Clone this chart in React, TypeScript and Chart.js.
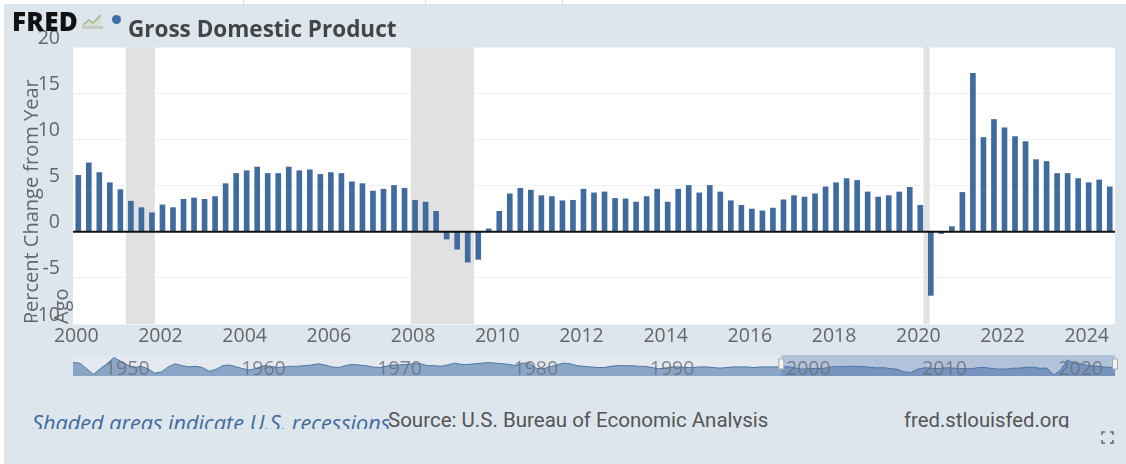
import React, { useEffect, useRef } from "react";
import { Chart, registerables } from "chart.js";

Chart.register(...registerables);

const FONT = '"Open Sans", sans-serif';
const TICK_COLOR = "#666666";

// Quarterly percent change from year ago, 2000 Q1 to 2024 Q3
const quarterLabels = [
  "2000-Q1","2000-Q2","2000-Q3","2000-Q4","2001-Q1","2001-Q2","2001-Q3","2001-Q4",
  "2002-Q1","2002-Q2","2002-Q3","2002-Q4","2003-Q1","2003-Q2","2003-Q3","2003-Q4",
  "2004-Q1","2004-Q2","2004-Q3","2004-Q4","2005-Q1","2005-Q2","2005-Q3","2005-Q4",
  "2006-Q1","2006-Q2","2006-Q3","2006-Q4","2007-Q1","2007-Q2","2007-Q3","2007-Q4",
  "2008-Q1","2008-Q2","2008-Q3","2008-Q4","2009-Q1","2009-Q2","2009-Q3","2009-Q4",
  "2010-Q1","2010-Q2","2010-Q3","2010-Q4","2011-Q1","2011-Q2","2011-Q3","2011-Q4",
  "2012-Q1","2012-Q2","2012-Q3","2012-Q4","2013-Q1","2013-Q2","2013-Q3","2013-Q4",
  "2014-Q1","2014-Q2","2014-Q3","2014-Q4","2015-Q1","2015-Q2","2015-Q3","2015-Q4",
  "2016-Q1","2016-Q2","2016-Q3","2016-Q4","2017-Q1","2017-Q2","2017-Q3","2017-Q4",
  "2018-Q1","2018-Q2","2018-Q3","2018-Q4","2019-Q1","2019-Q2","2019-Q3","2019-Q4",
  "2020-Q1","2020-Q2","2020-Q3","2020-Q4","2021-Q1","2021-Q2","2021-Q3","2021-Q4",
  "2022-Q1","2022-Q2","2022-Q3","2022-Q4","2023-Q1","2023-Q2","2023-Q3","2023-Q4",
  "2024-Q1","2024-Q2","2024-Q3",
];

const gdpChange = [
  6.1, 7.45, 6.4, 5.3, 4.55, 3.3, 2.6, 2.05,
  2.9, 2.6, 3.5, 3.65, 3.5, 3.8, 5.2, 6.3,
  6.6, 7.0, 6.3, 6.3, 7.0, 6.6, 6.7, 6.2,
  6.4, 6.3, 5.4, 5.2, 4.4, 4.6, 5.0, 4.7,
  3.4, 3.2, 2.2, -0.8, -1.9, -3.3, -3.0, 0.3,
  2.2, 4.1, 4.7, 4.5, 3.9, 3.8, 3.35, 3.4,
  4.6, 4.2, 4.3, 3.6, 3.55, 3.2, 3.8, 4.6,
  3.2, 4.6, 5.0, 4.2, 5.0, 4.3, 3.35, 2.85,
  2.45, 2.25, 2.55, 3.45, 3.9, 3.75, 4.1, 4.85,
  5.3, 5.75, 5.55, 4.3, 3.75, 3.9, 4.3, 4.8,
  2.85, -6.9, -0.2, 0.55, 4.25, 17.15, 10.2, 12.15,
  11.25, 10.3, 9.75, 7.8, 7.6, 6.3, 6.3, 5.75,
  5.3, 5.6, 4.85,
];

// Recession bands, as positions along the quarter axis (0 = 2000 Q1)
const recessionStarts = [4.53, 31.6, 80.3];
const recessionEnds = [7.28, 37.6, 80.9];

const yTitleLines = ["Percent Change from Year", "Ago"];

// Navigator overview: half-yearly values from 1948
const navFirstYear = 1948;
const navTickYears = [1950, 1960, 1970, 1980, 1990, 2000, 2010, 2020];
const navValues = [
  13, 12, 3, -6, 3, 11, 21, 15, 9, 5, 7, 3, -4, -2, 6, 11, 8, 6, 7, 5,
  -1, 2, 8, 9, 6, 3, 1, 4, 8, 7, 5, 6, 7, 7, 8, 9, 11, 9, 6, 5,
  8, 10, 9, 8, 6, 5, 7, 9, 9, 10, 11, 11, 8, 8, 7, 9, 12, 10, 10, 11,
  12, 13, 12, 11, 10, 8, 12, 12, 4, 3, 6, 9, 12, 11, 8, 7, 6, 5, 5, 7,
  8, 8, 8, 7, 7, 5, 3, 4, 6, 6, 5, 5, 6, 6, 5, 4, 5, 6, 6, 6,
  5, 6, 6, 6, 6.1, 6.4, 4.5, 2.6, 2.9, 3.5, 3.5, 5.2, 6.6, 6.3, 7, 6.7,
  6.4, 5.4, 4.4, 4.9, 3.4, 2.2, -1.9, -3, 2.2, 4.7, 3.9, 3.4, 4.6, 4.3,
  3.6, 3.2, 3.2, 5, 5, 3.35, 2.4, 2.55, 3.9, 4.1, 5.3, 5.55, 3.75, 4.3,
  -6.9, 0.5, 17, 12, 11, 8, 7.6, 6.3, 5.3, 4.85,
];
const navSelection = [2000, 2024.5];

const recessionBands = {
  id: "recessionBands",
  beforeDatasetsDraw(chart: any) {
    const { ctx, chartArea, scales } = chart;
    ctx.save();
    ctx.fillStyle = "#e1e1e1";
    recessionStarts.forEach((s, i) => {
      const a = scales.x.getPixelForValue(s);
      const b = scales.x.getPixelForValue(recessionEnds[i]);
      ctx.fillRect(a, chartArea.top, b - a, chartArea.bottom - chartArea.top);
    });
    ctx.restore();
  },
};

const zeroLine = {
  id: "zeroLine",
  afterDatasetsDraw(chart: any) {
    const { ctx, chartArea, scales } = chart;
    const y = scales.y.getPixelForValue(0);
    ctx.save();
    ctx.strokeStyle = "#111111";
    ctx.lineWidth = 2;
    ctx.beginPath();
    ctx.moveTo(chartArea.left, y);
    ctx.lineTo(chartArea.right, y);
    ctx.stroke();
    ctx.restore();
  },
};

const plotBackground = {
  id: "plotBackground",
  beforeDraw(chart: any) {
    const { ctx, chartArea } = chart;
    ctx.save();
    ctx.fillStyle = "#ffffff";
    ctx.fillRect(chartArea.left, chartArea.top, chartArea.right - chartArea.left, chartArea.bottom - chartArea.top);
    ctx.restore();
  },
};

const navBackground = {
  id: "navBackground",
  beforeDraw(chart: any) {
    const { ctx, chartArea } = chart;
    ctx.save();
    ctx.fillStyle = "#e4e9f0";
    ctx.fillRect(chartArea.left, chartArea.top, chartArea.right - chartArea.left, chartArea.bottom - chartArea.top);
    ctx.restore();
  },
};

const navSelectionBox = {
  id: "navSelectionBox",
  afterDatasetsDraw(chart: any) {
    const { ctx, chartArea, scales } = chart;
    const a = scales.x.getPixelForValue(navSelection[0]);
    const b = scales.x.getPixelForValue(navSelection[1]);
    ctx.save();
    ctx.fillStyle = "rgba(80,115,175,0.33)";
    ctx.fillRect(a, chartArea.top, b - a, chartArea.bottom - chartArea.top);
    [a, b].forEach((x) => {
      ctx.fillStyle = "#f2f2f2";
      ctx.strokeStyle = "#aaaaaa";
      ctx.lineWidth = 1;
      ctx.fillRect(x - 2.5, chartArea.top + 4, 5, 10);
      ctx.strokeRect(x - 2.5, chartArea.top + 4, 5, 10);
    });
    ctx.restore();
  },
};

export default function App() {
  const mainRef = useRef<HTMLCanvasElement>(null);
  const navRef = useRef<HTMLCanvasElement>(null);

  useEffect(() => {
    const main = new Chart(mainRef.current as any, {
      type: "bar",
      data: {
        labels: quarterLabels,
        datasets: [
          {
            data: gdpChange,
            backgroundColor: "#3f6b9f",
            borderWidth: 0,
            barThickness: 5,
          },
        ],
      },
      plugins: [plotBackground, recessionBands, zeroLine],
      options: {
        animation: false,
        responsive: false,
        devicePixelRatio: 1,
        layout: { padding: { top: 47, right: 11, left: 0, bottom: 0 } },
        plugins: { legend: { display: false }, tooltip: { enabled: false }, title: { display: false } },
        scales: {
          x: {
            type: "category",
            offset: true,
            grid: { display: false },
            border: { display: false },
            afterFit(s: any) {
              s.height = 26;
            },
            ticks: {
              autoSkip: false,
              maxRotation: 0,
              minRotation: 0,
              color: TICK_COLOR,
              labelOffset: -2,
              padding: -7,
              font: { family: FONT, size: 19.5 },
              callback(_v: any, i: number) {
                const [year, q] = quarterLabels[i].split("-Q");
                return q === "1" && Number(year) % 2 === 0 ? year : "";
              },
            },
          },
          y: {
            min: -10,
            max: 20,
            grid: { color: "#eef0f3", lineWidth: 1, drawTicks: false },
            border: { display: false },
            afterFit(s: any) {
              s.width = 73;
            },
            ticks: {
              stepSize: 5,
              color: TICK_COLOR,
              labelOffset: -9,
              padding: 13,
              font: { family: FONT, size: 19.5 },
            },
            title: {
              display: true,
              text: yTitleLines,
              align: "start",
              color: TICK_COLOR,
              padding: { top: 17, bottom: 0 },
              font: { family: FONT, size: 20, lineHeight: 1.5 },
            },
          },
        },
      },
    } as any);

    const nav = new Chart(navRef.current as any, {
      type: "line",
      data: {
        datasets: [
          {
            data: navValues.map((y, i) => ({ x: navFirstYear + i / 2, y })),
            borderColor: "#4a76a8",
            borderWidth: 1,
            backgroundColor: "#8ba5c7",
            fill: "start",
            pointRadius: 0,
            tension: 0,
          },
        ],
      },
      plugins: [navBackground, navSelectionBox],
      options: {
        animation: false,
        responsive: false,
        devicePixelRatio: 1,
        layout: { padding: { top: 5, right: 11, left: 73, bottom: 0 } },
        plugins: { legend: { display: false }, tooltip: { enabled: false } },
        scales: {
          x: {
            type: "linear",
            min: navFirstYear,
            max: 2024.5,
            grid: { display: false },
            border: { display: false },
            afterBuildTicks(s: any) {
              s.ticks = navTickYears.map((value) => ({ value }));
            },
            afterFit(s: any) {
              s.height = 24;
            },
            ticks: {
              autoSkip: false,
              maxRotation: 0,
              minRotation: 0,
              z: 5,
              mirror: true,
              color: "rgba(105,110,118,0.8)",
              labelOffset: 27,
              padding: -5.6,
              font: { family: FONT, size: 19.5 },
              callback(v: any) {
                return String(v);
              },
            },
          },
          y: { display: false, min: -8.5, max: 25 },
        },
      },
    } as any);

    return () => {
      main.destroy();
      nav.destroy();
    };
  }, []);

  const abs: React.CSSProperties = { position: "absolute", whiteSpace: "nowrap" };

  return (
    <div
      style={{
        position: "absolute",
        left: 0,
        top: 0,
        width: 1126,
        height: 464,
        overflow: "hidden",
        background: "#ffffff",
        filter: "blur(0.7px)",
      }}
    >
      <div style={{ ...abs, left: 4, top: 4, right: 0, bottom: 0, background: "#dde5ed" }} />
      {[243, 425, 562].map((x) => (
        <div key={x} style={{ ...abs, left: x, top: 0, width: 1, height: 4, background: "#d8dde3" }} />
      ))}
      <canvas ref={mainRef} width={1126} height={350} style={{ position: "absolute", left: 0, top: 0 }} />
      <canvas ref={navRef} width={1126} height={50} style={{ position: "absolute", left: 0, top: 350 }} />

      <div style={{ ...abs, left: 12, top: 3, font: `800 26px ${FONT}`, color: "#111", letterSpacing: 0.3 }}>FRED</div>
      <svg style={{ position: "absolute", left: 82, top: 13 }} width={21} height={17} viewBox="0 0 21 17">
        <rect x="0" y="13" width="21" height="3" fill="#c9c9c9" />
        <path d="M1 13 L7 7 L11 10 L19 2 L19 13 Z" fill="#d6dfd0" />
        <path d="M1 12 L7 7 L11 10 L19 2" fill="none" stroke="#9db58c" strokeWidth="1.5" />
      </svg>
      <div style={{ ...abs, left: 112, top: 15, width: 9, height: 9, borderRadius: "50%", background: "#3c6ea8" }} />
      <div style={{ ...abs, left: 128, top: 13, font: `700 22.5px ${FONT}`, color: "#444" }}>Gross Domestic Product</div>

      <div style={{ ...abs, left: 32, top: 408, height: 21, overflow: "hidden", font: `italic 21.7px ${FONT}`, color: "#3f6b9f", lineHeight: "29px" }}>
        Shaded areas indicate U.S. recessions
      </div>
      <div style={{ ...abs, left: 388, top: 407, height: 21, overflow: "hidden", font: `20.5px Roboto, sans-serif`, color: "#555", lineHeight: "26px" }}>
        Source: U.S. Bureau of Economic Analysis
      </div>
      <div style={{ ...abs, left: 904, top: 407, height: 21, overflow: "hidden", font: `20.3px Roboto, sans-serif`, color: "#555", lineHeight: "26px" }}>
        fred.stlouisfed.org
      </div>
      <svg style={{ position: "absolute", left: 1101, top: 431 }} width={13} height={13} viewBox="0 0 13 13">
        <path d="M1 4 V1 H4 M9 1 H12 V4 M12 9 V12 H9 M4 12 H1 V9" fill="none" stroke="#666" strokeWidth="1.5" />
      </svg>
    </div>
  );
}
